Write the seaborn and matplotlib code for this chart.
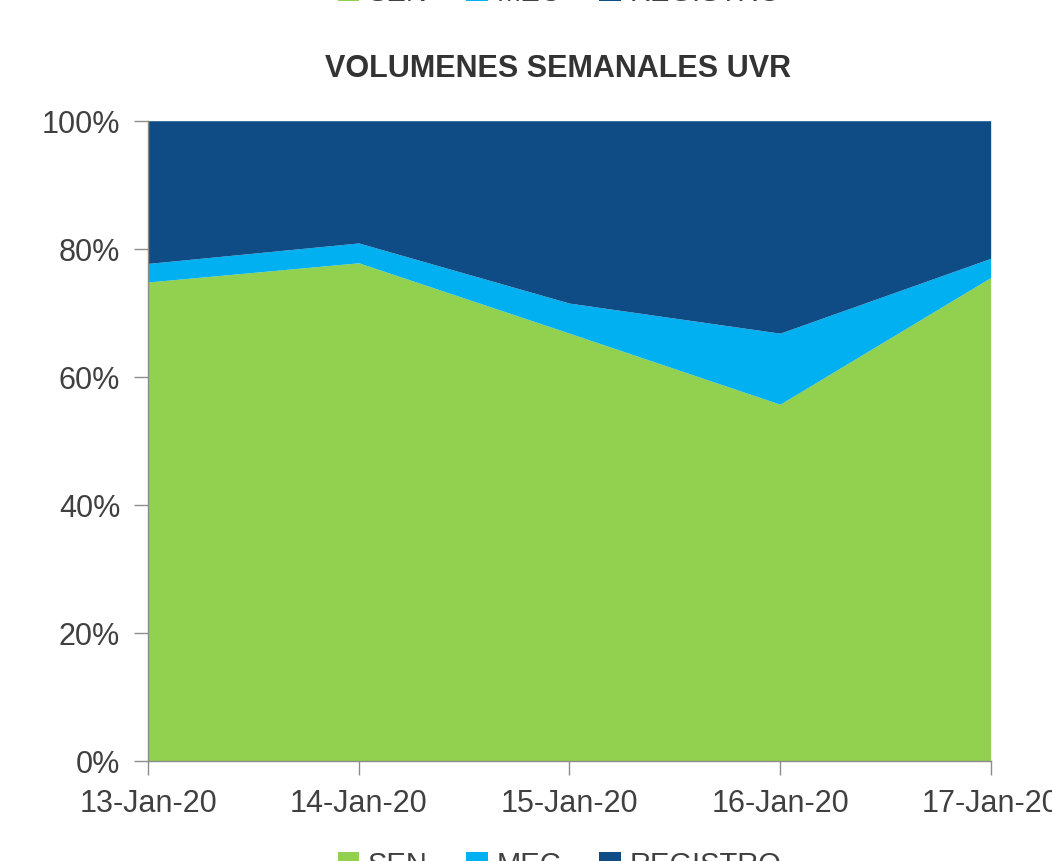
import matplotlib
matplotlib.use("Agg")
import matplotlib.pyplot as plt
from matplotlib.patches import Patch
import seaborn as sns

# Data (percent of weekly volume)
dates = ['13-Jan-20', '14-Jan-20', '15-Jan-20', '16-Jan-20', '17-Jan-20']
sen = [74.8, 77.8, 66.8, 55.7, 75.5]
mec = [2.9, 3.1, 4.7, 11.1, 3.0]
registro = [22.3, 19.1, 28.5, 33.2, 21.5]
series_names = ['SEN', 'MEC', 'REGISTRO']
colors = ['#92D050', '#00B0F0', '#0F4C86']

sns.set_theme(style="white")
plt.rcParams['font.family'] = ['Liberation Sans', 'DejaVu Sans']

fig = plt.figure(figsize=(10.52, 8.62), dpi=100)
ax = fig.add_axes([0.1407, 0.1164, 0.8010, 0.7424])

x = list(range(len(dates)))
ax.stackplot(x, sen, mec, registro, colors=colors, linewidth=0)

ax.set_xlim(0, len(dates) - 1)
ax.set_ylim(0, 100)
ax.set_xticks(x)
ax.set_xticklabels(dates)
ax.set_yticks(range(0, 101, 20))
ax.set_yticklabels([f'{v}%' for v in range(0, 101, 20)])

grey = '#404040'
ax.tick_params(axis='both', colors='#8C8C8C', labelcolor=grey, labelsize=22,
               length=10, width=1, direction='out', bottom=True, left=True)
ax.tick_params(axis='x', pad=10)
ax.tick_params(axis='y', pad=10)
sns.despine(ax=ax, top=True, right=True)
for side in ['left', 'bottom']:
    ax.spines[side].set_color('#8C8C8C')
    ax.spines[side].set_linewidth(1)

fig.text(0.53, 0.920, 'VOLUMENES SEMANALES UVR', ha='center', va='center',
         fontsize=22, fontweight='bold', color='#333333')

handles = [Patch(facecolor=c, edgecolor='none', label=n) for c, n in zip(colors, series_names)]
for y in [1.008, -0.004]:
    fig.legend(handles=handles, loc='center', bbox_to_anchor=(0.532, y), ncol=3,
               frameon=False, fontsize=21, handlelength=0.75, handleheight=0.75,
               handletextpad=0.3, columnspacing=1.3, labelcolor=grey)

fig.savefig('out.png', dpi=100)
